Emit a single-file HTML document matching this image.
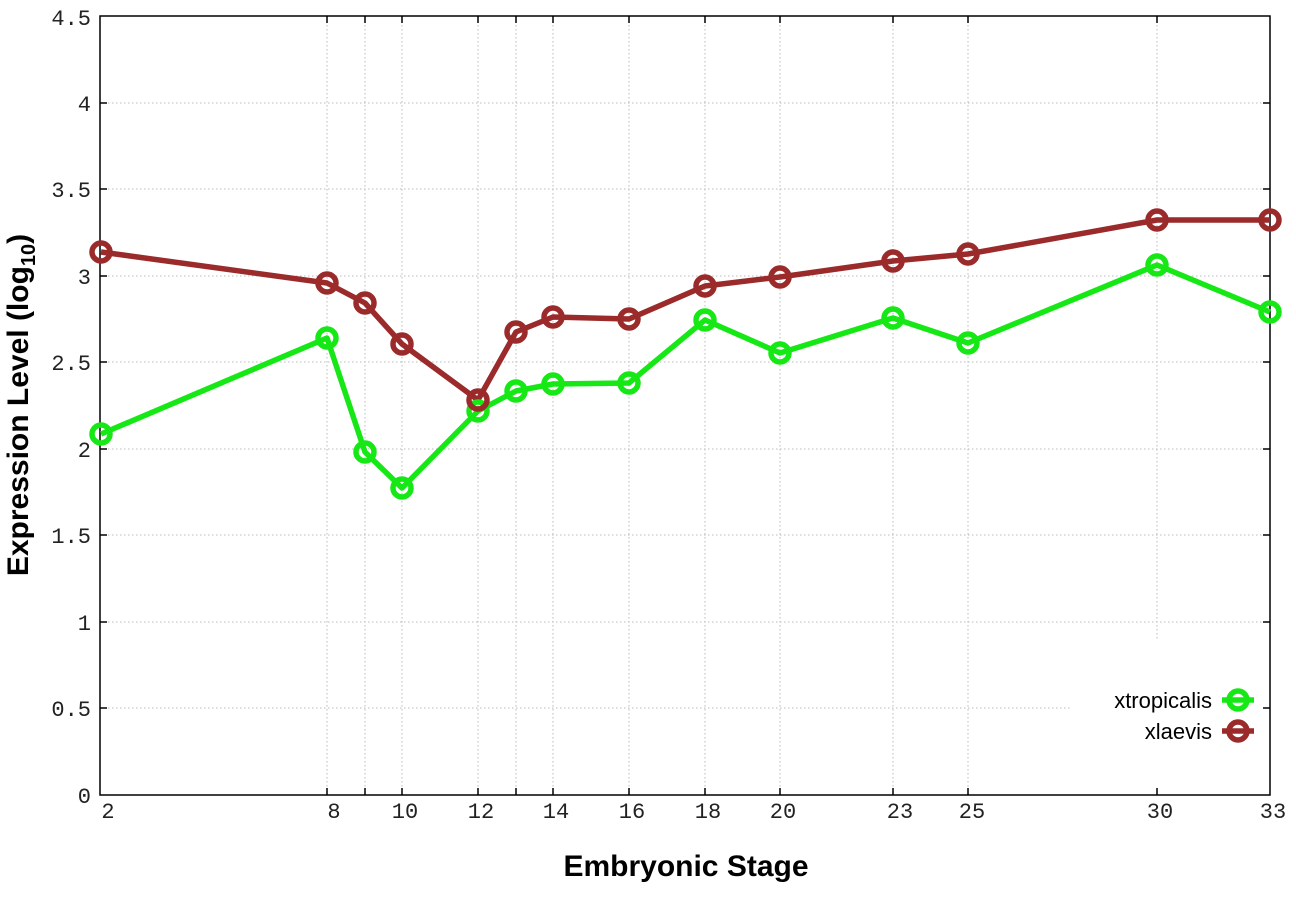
<!DOCTYPE html>
<html><head><style>body{margin:0;background:#fff}</style></head><body>
<svg width="1296" height="907" xmlns="http://www.w3.org/2000/svg">
<rect width="1296" height="907" fill="#fff"/>
<g stroke="#bbb" stroke-width="1" stroke-dasharray="1.5,2.5">
<line x1="100" y1="708" x2="1070" y2="708"/>
<line x1="100" y1="622" x2="1270" y2="622"/>
<line x1="100" y1="535" x2="1270" y2="535"/>
<line x1="100" y1="449" x2="1270" y2="449"/>
<line x1="100" y1="362" x2="1270" y2="362"/>
<line x1="100" y1="276" x2="1270" y2="276"/>
<line x1="100" y1="189" x2="1270" y2="189"/>
<line x1="100" y1="103" x2="1270" y2="103"/>
<line x1="327" y1="17" x2="327" y2="795"/>
<line x1="365" y1="17" x2="365" y2="795"/>
<line x1="402" y1="17" x2="402" y2="795"/>
<line x1="478" y1="17" x2="478" y2="795"/>
<line x1="516" y1="17" x2="516" y2="795"/>
<line x1="553" y1="17" x2="553" y2="795"/>
<line x1="629" y1="17" x2="629" y2="795"/>
<line x1="705" y1="17" x2="705" y2="795"/>
<line x1="780" y1="17" x2="780" y2="795"/>
<line x1="893" y1="17" x2="893" y2="795"/>
<line x1="968" y1="17" x2="968" y2="795"/>
<line x1="1157" y1="17" x2="1157" y2="640"/>
</g>
<g stroke="#000" stroke-width="1.5">
<rect x="100" y="16" width="1170" height="779" fill="none"/>
<path d="M100 708h7M100 622h7M100 535h7M100 449h7M100 362h7M100 276h7M100 189h7M100 103h7M1270 708h-7M1270 622h-7M1270 535h-7M1270 449h-7M1270 362h-7M1270 276h-7M1270 189h-7M1270 103h-7"/>
<path d="M327 795v-7M365 795v-7M402 795v-7M478 795v-7M516 795v-7M553 795v-7M629 795v-7M705 795v-7M780 795v-7M893 795v-7M968 795v-7M1157 795v-7M327 16v7M365 16v7M402 16v7M478 16v7M516 16v7M553 16v7M629 16v7M705 16v7M780 16v7M893 16v7M968 16v7M1157 16v7"/>
</g>
<g font-family="Liberation Mono, monospace" font-size="22" fill="#222" text-anchor="end">
<text x="91" y="803">0</text><text x="91" y="716">0.5</text><text x="91" y="630">1</text><text x="91" y="543">1.5</text><text x="91" y="457">2</text><text x="91" y="370">2.5</text><text x="91" y="284">3</text><text x="91" y="197">3.5</text><text x="91" y="111">4</text><text x="91" y="25">4.5</text>
</g>
<g font-family="Liberation Mono, monospace" font-size="22" fill="#222" text-anchor="middle">
<text x="108" y="818">2</text><text x="334" y="818">8</text><text x="405" y="818">10</text><text x="481" y="818">12</text><text x="556" y="818">14</text><text x="632" y="818">16</text><text x="708" y="818">18</text><text x="783" y="818">20</text><text x="900" y="818">23</text><text x="972" y="818">25</text><text x="1160" y="818">30</text><text x="1273" y="818">33</text>
</g>
<text x="686" y="876" font-family="Liberation Sans, sans-serif" font-weight="bold" font-size="30" text-anchor="middle">Embryonic Stage</text>
<text transform="translate(28,405) rotate(-90)" font-family="Liberation Sans, sans-serif" font-weight="bold" font-size="30" text-anchor="middle">Expression Level (log<tspan font-size="20" dy="7">10</tspan><tspan dy="-7">)</tspan></text>
<g fill="none" stroke-width="5.5" stroke-linejoin="round">
<polyline stroke="#16e816" points="101,434 327,338 365,452 402,488 478,411 516,391 553,384 629,383 705,320 780,353 893,318 968,343 1157,265 1270,312"/>
<polyline stroke="#9b2a2a" points="101,252 327,283 365,303 402,344 478,400 516,332 553,317 629,319 705,286 780,277 893,261 968,254 1157,220 1270,220"/>
<g stroke="#16e816">
<circle cx="101" cy="434" r="9"/><circle cx="327" cy="338" r="9"/><circle cx="365" cy="452" r="9"/><circle cx="402" cy="488" r="9"/><circle cx="478" cy="411" r="9"/><circle cx="516" cy="391" r="9"/><circle cx="553" cy="384" r="9"/><circle cx="629" cy="383" r="9"/><circle cx="705" cy="320" r="9"/><circle cx="780" cy="353" r="9"/><circle cx="893" cy="318" r="9"/><circle cx="968" cy="343" r="9"/><circle cx="1157" cy="265" r="9"/><circle cx="1270" cy="312" r="9"/>
</g>
<g stroke="#9b2a2a">
<circle cx="101" cy="252" r="9"/><circle cx="327" cy="283" r="9"/><circle cx="365" cy="303" r="9"/><circle cx="402" cy="344" r="9"/><circle cx="478" cy="400" r="9"/><circle cx="516" cy="332" r="9"/><circle cx="553" cy="317" r="9"/><circle cx="629" cy="319" r="9"/><circle cx="705" cy="286" r="9"/><circle cx="780" cy="277" r="9"/><circle cx="893" cy="261" r="9"/><circle cx="968" cy="254" r="9"/><circle cx="1157" cy="220" r="9"/><circle cx="1270" cy="220" r="9"/>
</g>
<path stroke="#16e816" d="M1222 700h32"/><circle stroke="#16e816" cx="1238" cy="700" r="9"/>
<path stroke="#9b2a2a" d="M1222 731h32"/><circle stroke="#9b2a2a" cx="1238" cy="731" r="9"/>
</g>
<g font-family="Liberation Sans, sans-serif" font-size="22" text-anchor="end" fill="#000">
<text x="1212" y="708">xtropicalis</text><text x="1212" y="739">xlaevis</text>
</g>
</svg>
</body></html>
